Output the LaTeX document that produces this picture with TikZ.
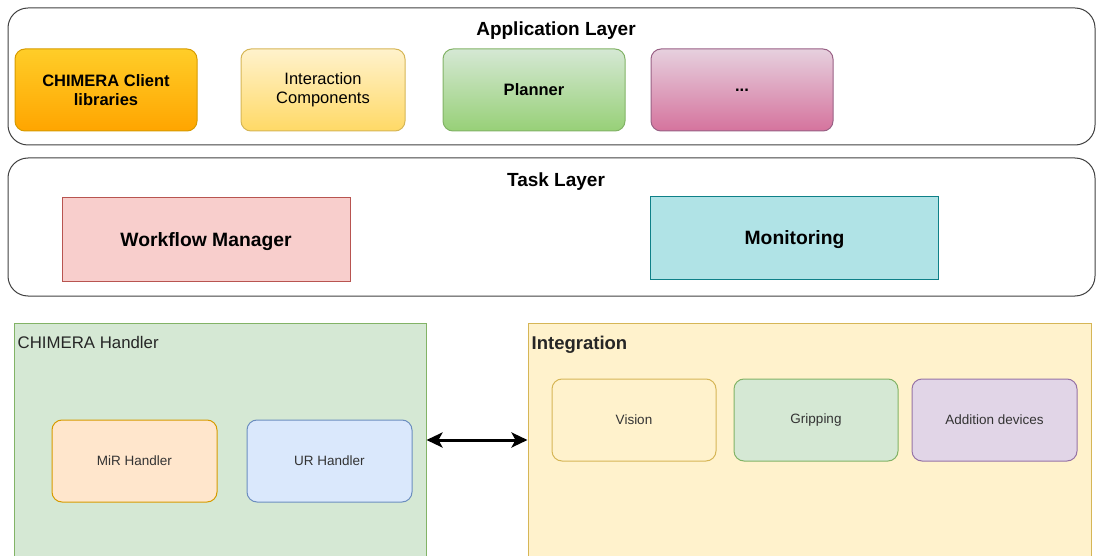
\documentclass[tikz,border=0pt]{standalone}
\usepackage{fontspec}
\setmainfont{Liberation Sans}
\usetikzlibrary{arrows.meta}
\definecolor{txtgray}{HTML}{333333}
\definecolor{orangeline}{HTML}{D79B00}
\definecolor{orangetop}{HTML}{FFCD28}
\definecolor{orangebot}{HTML}{FFA500}
\definecolor{yellowline}{HTML}{D6B656}
\definecolor{yellowfill}{HTML}{FFF2CC}
\definecolor{yellowbot}{HTML}{FFD966}
\definecolor{greenline}{HTML}{82B366}
\definecolor{greenfill}{HTML}{D5E8D4}
\definecolor{greenbot}{HTML}{97D077}
\definecolor{pinkline}{HTML}{996185}
\definecolor{pinktop}{HTML}{E6D0DE}
\definecolor{pinkbot}{HTML}{D5739D}
\definecolor{redline}{HTML}{B85450}
\definecolor{redfill}{HTML}{F8CECC}
\definecolor{tealline}{HTML}{0E8088}
\definecolor{tealfill}{HTML}{B0E3E6}
\definecolor{peachfill}{HTML}{FFE6CC}
\definecolor{blueline}{HTML}{6C8EBF}
\definecolor{bluefill}{HTML}{DAE8FC}
\definecolor{purpleline}{HTML}{9673A6}
\definecolor{purplefill}{HTML}{E1D5E7}
\tikzset{
    layerbox/.style={draw=black!75, rounded corners=20pt, line width=1pt, minimum width=1087pt, inner sep=0pt},
    appbox/.style={draw=#1, rounded corners=10pt, line width=1pt, minimum width=182pt, minimum height=82pt, align=center, inner sep=0pt, font=\fontsize{16.5}{19}\selectfont},
    taskbox/.style={draw=#1, line width=1pt, minimum width=288pt, minimum height=84pt, inner sep=0pt, text depth=0pt, font=\bfseries\fontsize{19.3}{22}\selectfont},
    groupbox/.style={draw=#1, line width=1pt, minimum height=234pt, inner sep=0pt},
    devbox/.style={draw=#1, rounded corners=10pt, line width=1pt, minimum width=165pt, minimum height=82pt, inner sep=0pt, text=txtgray, font=\fontsize{13.5}{16}\selectfont},
    title/.style={font=\bfseries\fontsize{19}{22}\selectfont, inner sep=0pt, text depth=0pt}
}
\begin{document}
\begin{tikzpicture}[x=1pt, y=-1pt]
    \useasboundingbox (0,0) rectangle (1098,556);
    \clip (0,0) rectangle (1098,556);

    % application layer
    \path (551.5,76.5) node[layerbox, minimum height=137pt] (app-layer) {};
    \path (556,29) node[title] (app-title) {Application Layer};
    \path (106,90) node[appbox=orangeline, top color=orangetop, bottom color=orangebot, font=\bfseries\fontsize{16.5}{19}\selectfont] (client-lib) {CHIMERA Client\\libraries};
    \path (323,90) node[appbox=yellowline, minimum width=164pt, top color=yellowfill, bottom color=yellowbot] (interact) {Interaction\\Components};
    \path (534,90) node[appbox=greenline, top color=greenfill, bottom color=greenbot, font=\bfseries\fontsize{16.5}{19}\selectfont] (planner) {Planner};
    \path (742,90) node[appbox=pinkline, top color=pinktop, bottom color=pinkbot, font=\bfseries\fontsize{16.5}{19}\selectfont] (more) {...};

    % task layer
    \path (551.5,227) node[layerbox, minimum height=138pt] (task-layer) {};
    \path (556,180) node[title] (task-title) {Task Layer};
    \path (206,239.5) node[taskbox=redline, fill=redfill] (workflow) {Workflow Manager};
    \path (794.5,238) node[taskbox=tealline, fill=tealfill, minimum height=82pt] (monitor) {Monitoring};

    % chimera handler
    \path (220,440) node[groupbox=greenline, fill=greenfill, minimum width=412pt] (handler) {};
    \path (handler.north west) ++(4,20) node[anchor=west, inner sep=0pt, font=\fontsize{16.8}{19}\selectfont, text=black!85] (handler-title) {CHIMERA Handler};
    \path (134.5,461) node[devbox=orangeline, fill=peachfill] (mir) {MiR Handler};
    \path (329.5,461) node[devbox=blueline, fill=bluefill] (ur) {UR Handler};

    % integration
    \path (809.5,440) node[groupbox=yellowline, fill=yellowfill, minimum width=563pt] (integration) {};
    \path (integration.north west) ++(4,22) node[anchor=west, inner sep=0pt, font=\bfseries\fontsize{18.5}{21}\selectfont, text=black!85] (integ-title) {Integration};
    \path (634,420) node[devbox=yellowline, minimum width=164pt, fill=yellowfill] (vision) {Vision};
    \path (816,420) node[devbox=greenline, minimum width=164pt, fill=greenfill] (gripping) {Gripping};
    \path (994.5,420) node[devbox=purpleline, fill=purplefill] (devices) {Addition devices};

    \draw[{Stealth[length=16pt,width=15pt,inset=4pt]}-{Stealth[length=16pt,width=15pt,inset=4pt]}, line width=3pt] (handler.east) -- (integration.west);
\end{tikzpicture}
\end{document}
